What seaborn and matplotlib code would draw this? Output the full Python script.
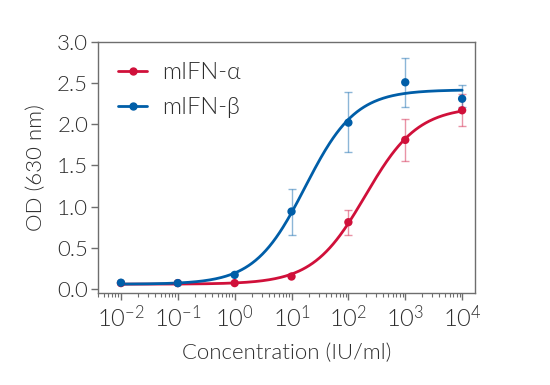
import numpy as np
import pandas as pd
import matplotlib
matplotlib.use("Agg")
import matplotlib.pyplot as plt
import seaborn as sns
from matplotlib.lines import Line2D
from matplotlib.ticker import LogLocator, NullFormatter, FixedLocator

# --- data ---
conc = [0.01, 0.1, 1, 10, 100, 1000, 10000]
alpha_od = [0.07, 0.07, 0.07, 0.15, 0.81, 1.81, 2.17]
alpha_lo = [np.nan, np.nan, np.nan, np.nan, 0.65, 1.55, 1.98]
alpha_hi = [np.nan, np.nan, np.nan, np.nan, 0.96, 2.07, 2.37]
beta_od = [0.075, 0.07, 0.17, 0.94, 2.02, 2.51, 2.31]
beta_lo = [np.nan, np.nan, np.nan, 0.66, 1.66, 2.21, 2.21]
beta_hi = [np.nan, np.nan, np.nan, 1.21, 2.39, 2.80, 2.48]

RED = "#d0103a"
BLUE = "#005ea8"


def fit_4pl(x, y):
    # crude 4PL fit: grid on EC50/hill, least squares for bottom/top
    x = np.asarray(x, float)
    y = np.asarray(y, float)
    best = None
    for lec in np.arange(-1, 4, 0.01):
        for h in np.arange(0.5, 2.5, 0.02):
            s = 1.0 / (1.0 + (10 ** lec / x) ** h)
            A = np.column_stack([1 - s, s])
            coef, *_ = np.linalg.lstsq(A, y, rcond=None)
            err = np.sum((A @ coef - y) ** 2)
            if best is None or err < best[0]:
                best = (err, lec, h, coef)
    _, lec, h, (b, t) = best
    return lambda xx: b + (t - b) / (1.0 + (10 ** lec / xx) ** h)


xs = np.logspace(-2, 4, 300)
curves = pd.DataFrame({
    "x": np.concatenate([xs, xs]),
    "y": np.concatenate([fit_4pl(conc, alpha_od)(xs), fit_4pl(conc, beta_od)(xs)]),
    "serie": ["mIFN-α"] * len(xs) + ["mIFN-β"] * len(xs),
})
punti = pd.DataFrame({
    "x": conc + conc,
    "y": alpha_od + beta_od,
    "serie": ["mIFN-α"] * len(conc) + ["mIFN-β"] * len(conc),
})
palette = {"mIFN-α": RED, "mIFN-β": BLUE}

sns.set_theme(style="ticks")
plt.rcParams["font.family"] = ["Lato", "DejaVu Sans"]
plt.rcParams["font.weight"] = 300
plt.rcParams["axes.labelweight"] = 300
plt.rcParams["mathtext.fontset"] = "custom"
plt.rcParams["mathtext.rm"] = "Lato:weight=300"
plt.rcParams["mathtext.it"] = "Lato:weight=300"

GRAY = "#6e6e6e"
TXT = "#2e2e2e"

fig = plt.figure(figsize=(5.5, 3.85), dpi=100)
ax = fig.add_axes([0.178, 0.239, 0.686, 0.652])

# error bars
for od, lo, hi, col in [(alpha_od, alpha_lo, alpha_hi, RED), (beta_od, beta_lo, beta_hi, BLUE)]:
    od = np.array(od); lo = np.array(lo); hi = np.array(hi)
    m = ~np.isnan(lo)
    ax.errorbar(np.array(conc)[m], od[m], yerr=[od[m] - lo[m], hi[m] - od[m]],
                fmt="none", ecolor=col, alpha=0.45, elinewidth=1.0, capsize=3, capthick=1.0, zorder=2)

sns.lineplot(data=curves, x="x", y="y", hue="serie", palette=palette, lw=2.0, legend=False, ax=ax, zorder=3)
sns.scatterplot(data=punti, x="x", y="y", hue="serie", palette=palette, s=36, edgecolor="none",
                legend=False, ax=ax, zorder=4)

ax.set_xscale("log")
ax.set_xlim(10 ** -2.405, 10 ** 4.23)
ax.set_ylim(-0.05, 3.0)
ax.xaxis.set_major_locator(FixedLocator([10.0 ** k for k in range(-2, 5)]))
ax.set_xticklabels([r"$\mathregular{10^{%d}}$" % k for k in range(-2, 5)])
ax.xaxis.set_minor_locator(LogLocator(base=10, subs=np.arange(2, 10), numticks=20))
ax.xaxis.set_minor_formatter(NullFormatter())
ax.set_yticks(np.arange(0, 3.01, 0.5))
ax.set_yticklabels([f"{v:.1f}" for v in np.arange(0, 3.01, 0.5)], fontweight=300)

for sp in ax.spines.values():
    sp.set_color(GRAY)
    sp.set_linewidth(1.0)
ax.tick_params(axis="both", which="major", color=GRAY, width=1.0, length=5, labelsize=16, labelcolor=TXT, pad=2)
ax.tick_params(axis="x", which="minor", color=GRAY, width=0.8, length=3)
ax.tick_params(axis="x", which="major", labelsize=17, pad=3)

ax.set_xlabel("Concentration (IU/ml)", fontsize=16, color=TXT, labelpad=9, fontweight=300)
ax.set_ylabel("OD (630 nm)", fontsize=16, color=TXT, labelpad=8, fontweight=300)

handles = [Line2D([0], [0], color=RED, lw=2, marker="o", ms=5),
           Line2D([0], [0], color=BLUE, lw=2, marker="o", ms=5)]
ax.legend(handles, ["mIFN-α", "mIFN-β"], loc="upper left", frameon=False,
          prop={"family": ["Lato", "DejaVu Sans"], "size": 17, "weight": 300},
          handlelength=1.25, handletextpad=0.6, borderaxespad=0.45, labelspacing=0.6,
          labelcolor=TXT)

plt.savefig("out.png", dpi=100)
